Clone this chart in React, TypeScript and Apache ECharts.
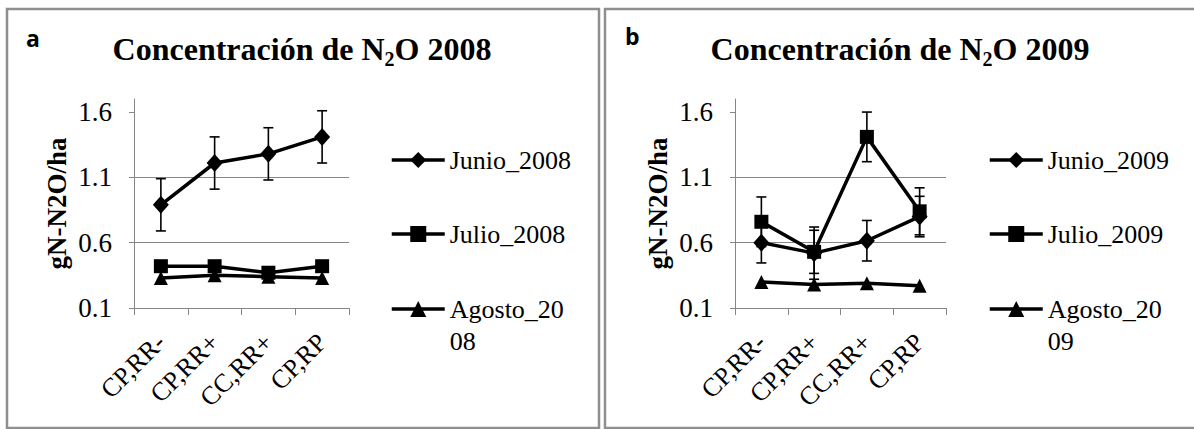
import React, { useEffect, useRef } from "react";
import * as echarts from "echarts";

const categories = ["CP,RR-", "CP,RR+", "CC,RR+", "CP,RP"];
const yTicks = [0.1, 0.6, 1.1, 1.6];

const junio2008 = [0.89, 1.21, 1.28, 1.41];
const junio2008Err = [0.2, 0.2, 0.2, 0.2];
const julio2008 = [0.42, 0.42, 0.37, 0.42];
const agosto2008 = [0.33, 0.35, 0.34, 0.33];

const junio2009 = [0.6, 0.52, 0.615, 0.8];
const junio2009Err = [0.155, 0.2, 0.155, 0.155];
const julio2009 = [0.76, 0.53, 1.41, 0.84];
const julio2009Err = [0.19, 0.165, 0.19, 0.18];
const agosto2009 = [0.3, 0.28, 0.29, 0.27];

const SERIF = "Liberation Serif";
const GRID_COLOR = "#868686";

function errData(vals: number[], errs: number[]) {
  return vals.map((v, i) => [i, v - errs[i], v + errs[i]]);
}

function errSeries(name: string, idx: number, vals: number[], errs: number[]) {
  return {
    type: "custom",
    name,
    xAxisIndex: idx,
    yAxisIndex: idx,
    z: 5,
    encode: { x: 0, y: [1, 2] },
    data: errData(vals, errs),
    renderItem: (params: any, api: any) => {
      const x = api.value(0);
      const lo = api.coord([x, api.value(1)]);
      const hi = api.coord([x, api.value(2)]);
      const cw = 5;
      const st = { stroke: "#000", lineWidth: 1.6 };
      return {
        type: "group",
        children: [
          { type: "line", shape: { x1: lo[0], y1: lo[1], x2: hi[0], y2: hi[1] }, style: st },
          { type: "line", shape: { x1: lo[0] - cw, y1: lo[1], x2: lo[0] + cw, y2: lo[1] }, style: st },
          { type: "line", shape: { x1: hi[0] - cw, y1: hi[1], x2: hi[0] + cw, y2: hi[1] }, style: st },
        ],
      };
    },
  };
}

function lineSeries(name: string, idx: number, data: number[], symbol: string, size: any) {
  return {
    type: "line",
    name,
    xAxisIndex: idx,
    yAxisIndex: idx,
    data,
    symbol,
    symbolSize: size,
    showSymbol: true,
    z: 4,
    lineStyle: { color: "#000", width: 3.5 },
    itemStyle: { color: "#000" },
  };
}

function legendItem(name: string, left: number, centerY: number, wrapped?: string) {
  const lh = 32;
  return {
    left,
    top: wrapped ? centerY - lh * 1.5 : centerY - lh / 2,
    orient: "vertical",
    padding: 0,
    data: [name],
    itemWidth: 53,
    itemHeight: 20,
    selectedMode: false,
    lineStyle: { width: 3.5, color: "#000" },
    formatter: wrapped ? () => wrapped : undefined,
    textStyle: { fontFamily: SERIF, fontSize: 26, lineHeight: lh, color: "#000" },
  };
}

export default function App() {
  const ref = useRef<HTMLDivElement>(null);
  useEffect(() => {
    if (!ref.current) return;
    const chart = echarts.init(ref.current, undefined, { renderer: "svg" });

    const gridTop = 99;
    const gridH = 209;

    const makeX = (gi: number) => ({
      type: "category",
      gridIndex: gi,
      data: categories,
      boundaryGap: true,
      axisLine: { show: true, lineStyle: { color: GRID_COLOR, width: 1 } },
      axisTick: { show: true, length: 7, lineStyle: { color: GRID_COLOR, width: 1 } },
      axisLabel: {
        rotate: 45,
        margin: 30,
        color: "#000",
        fontFamily: SERIF,
        fontSize: 26,
        interval: 0,
      },
    });

    const makeY = (gi: number) => ({
      type: "value",
      gridIndex: gi,
      min: 0.1,
      max: 1.7,
      interval: 0.5,
      name: "gN-N2O/ha",
      nameLocation: "middle",
      nameRotate: 90,
      nameGap: 64,
      nameTextStyle: { fontFamily: SERIF, fontSize: 27, fontWeight: "bold", color: "#000" },
      axisLine: { show: true, lineStyle: { color: GRID_COLOR, width: 1 } },
      axisTick: {
        show: true,
        length: 5,
        customValues: yTicks,
        lineStyle: { color: GRID_COLOR, width: 1 },
      },
      splitLine: { show: true, showMaxLine: false, lineStyle: { color: GRID_COLOR, width: 1 } },
      axisLabel: {
        showMaxLabel: false,
        margin: 22,
        color: "#000",
        fontFamily: SERIF,
        fontSize: 27,
        formatter: (v: number) => (v > 1.65 ? "" : v.toFixed(1)),
      },
    });

    const titleRich = {
      b: { fontFamily: SERIF, fontSize: 32, fontWeight: "bold", color: "#000", lineHeight: 40 },
      s: { fontFamily: SERIF, fontSize: 20, fontWeight: "bold", color: "#000", lineHeight: 14, verticalAlign: "bottom" },
    };

    const option: any = {
      animation: false,
      backgroundColor: "#fff",
      title: [
        {
          text: "{b|Concentración de N}{s|2}{b|O 2008}",
          left: 302,
          top: 29,
          textAlign: "center",
          padding: 0,
          textStyle: { rich: titleRich },
        },
        {
          text: "{b|Concentración de N}{s|2}{b|O 2009}",
          left: 900,
          top: 29,
          textAlign: "center",
          padding: 0,
          textStyle: { rich: titleRich },
        },
      ],
      grid: [
        { left: 134, top: gridTop, width: 215, height: gridH },
        { left: 735, top: gridTop, width: 211, height: gridH },
      ],
      xAxis: [makeX(0), makeX(1)],
      yAxis: [makeY(0), makeY(1)],
      legend: [
        legendItem("Junio_2008", 390, 160),
        legendItem("Julio_2008", 390, 234),
        legendItem("Agosto_2008", 390, 309, "\nAgosto_20\n08"),
        legendItem("Junio_2009", 988, 160),
        legendItem("Julio_2009", 988, 234),
        legendItem("Agosto_2009", 988, 309, "\nAgosto_20\n09"),
      ],
      series: [
        lineSeries("Junio_2008", 0, junio2008, "diamond", [16, 18]),
        lineSeries("Julio_2008", 0, julio2008, "rect", 14),
        lineSeries("Agosto_2008", 0, agosto2008, "triangle", 14),
        errSeries("err_junio_2008", 0, junio2008, junio2008Err),
        lineSeries("Junio_2009", 1, junio2009, "diamond", [16, 18]),
        lineSeries("Julio_2009", 1, julio2009, "rect", 14),
        lineSeries("Agosto_2009", 1, agosto2009, "triangle", 14),
        errSeries("err_junio_2009", 1, junio2009, junio2009Err),
        errSeries("err_julio_2009", 1, julio2009, julio2009Err),
      ],
      graphic: [
        {
          type: "rect",
          shape: { x: 7, y: 9, width: 592, height: 419 },
          style: { fill: "none", stroke: "#8f8f8f", lineWidth: 2.5 },
          silent: true,
        },
        {
          type: "rect",
          shape: { x: 605, y: 9, width: 600, height: 419 },
          style: { fill: "none", stroke: "#8f8f8f", lineWidth: 2.5 },
          silent: true,
        },
        {
          type: "text",
          x: 26,
          y: 38,
          style: {
            text: "a",
            fontFamily: "Open Sans",
            fontWeight: "bold",
            fontSize: 23,
            fill: "#000",
            verticalAlign: "middle",
          },
        },
        {
          type: "text",
          x: 625,
          y: 36,
          style: {
            text: "b",
            fontFamily: "Open Sans",
            fontWeight: "bold",
            fontSize: 23,
            fill: "#000",
            verticalAlign: "middle",
          },
        },
      ],
    };

    chart.setOption(option);
    return () => chart.dispose();
  }, []);

  return (
    <div
      ref={ref}
      style={{ position: "absolute", left: 0, top: 0, width: 1194, height: 429, background: "#fff" }}
    />
  );
}
